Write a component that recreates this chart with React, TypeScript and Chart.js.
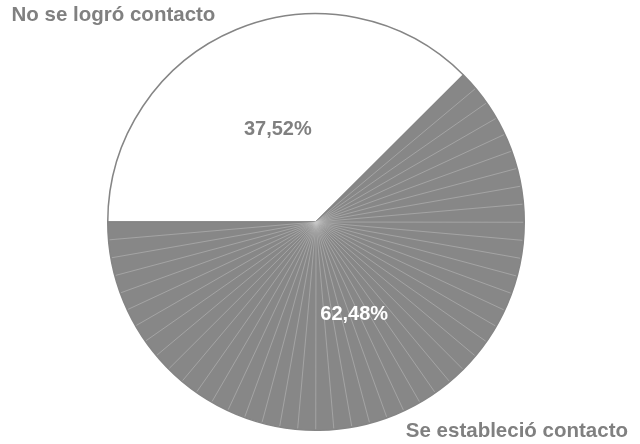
import React, { useEffect, useRef } from "react";
import { Chart, registerables } from "chart.js";

Chart.register(...registerables);

const categories = ["No se logró contacto", "Se estableció contacto"];
const values = [37.52, 62.48];
const valueLabels = ["37,52%", "62,48%"];
const fillColors = ["#ffffff", "#878787"];
const valueLabelColors = ["#808080", "#ffffff"];

const overlayPlugin = {
  id: "overlay",
  afterDatasetsDraw(chart: any) {
    const ctx = chart.ctx;
    const meta = chart.getDatasetMeta(0);
    ctx.save();
    // faint radial segment lines inside the grey slice
    const grey = meta.data[1];
    if (grey) {
      const { x, y, startAngle, endAngle, outerRadius } = grey.getProps(
        ["x", "y", "startAngle", "endAngle", "outerRadius"],
        true
      );
      ctx.strokeStyle = "rgba(200,200,200,0.75)";
      ctx.lineWidth = 0.6;
      const step = (5 * Math.PI) / 180;
      for (let a = startAngle + step; a < endAngle - 0.001; a += step) {
        ctx.beginPath();
        ctx.moveTo(x, y);
        ctx.lineTo(x + Math.cos(a) * (outerRadius - 1), y + Math.sin(a) * (outerRadius - 1));
        ctx.stroke();
      }
    }
    // value labels
    ctx.font = "bold 20px 'Liberation Sans', Arial, sans-serif";
    ctx.textAlign = "center";
    ctx.textBaseline = "middle";
    meta.data.forEach((arc: any, i: number) => {
      const { x, y, startAngle, endAngle, outerRadius } = arc.getProps(
        ["x", "y", "startAngle", "endAngle", "outerRadius"],
        true
      );
      const mid = (startAngle + endAngle) / 2;
      const d = outerRadius * 0.48;
      ctx.fillStyle = valueLabelColors[i];
      ctx.fillText(valueLabels[i], x + Math.cos(mid) * d, y + Math.sin(mid) * d);
    });
    // category labels
    ctx.font = "bold 20.5px 'Liberation Sans', Arial, sans-serif";
    ctx.fillStyle = "#808080";
    ctx.textBaseline = "alphabetic";
    ctx.textAlign = "left";
    ctx.fillText(categories[0], 11.5, 21);
    ctx.textAlign = "right";
    ctx.fillText(categories[1], 628, 437);
    ctx.restore();
  },
};

export default function App() {
  const ref = useRef<HTMLCanvasElement>(null);
  useEffect(() => {
    if (!ref.current) return;
    const chart = new Chart(ref.current, {
      type: "pie",
      data: {
        labels: categories,
        datasets: [
          {
            data: values,
            backgroundColor: fillColors,
            borderColor: "#858585",
            borderWidth: 1.5,
          },
        ],
      },
      options: {
        animation: false,
        responsive: false,
        rotation: -90,
        layout: { padding: { top: 13, bottom: 13, left: 0, right: 8 } },
        plugins: {
          legend: { display: false },
          tooltip: { enabled: false },
        },
      },
      plugins: [overlayPlugin],
    });
    return () => chart.destroy();
  }, []);
  return (
    <div style={{ position: "fixed", left: 0, top: 0, width: 640, height: 444, background: "#fff" }}>
      <canvas ref={ref} width={640} height={444} style={{ width: 640, height: 444 }} />
    </div>
  );
}
